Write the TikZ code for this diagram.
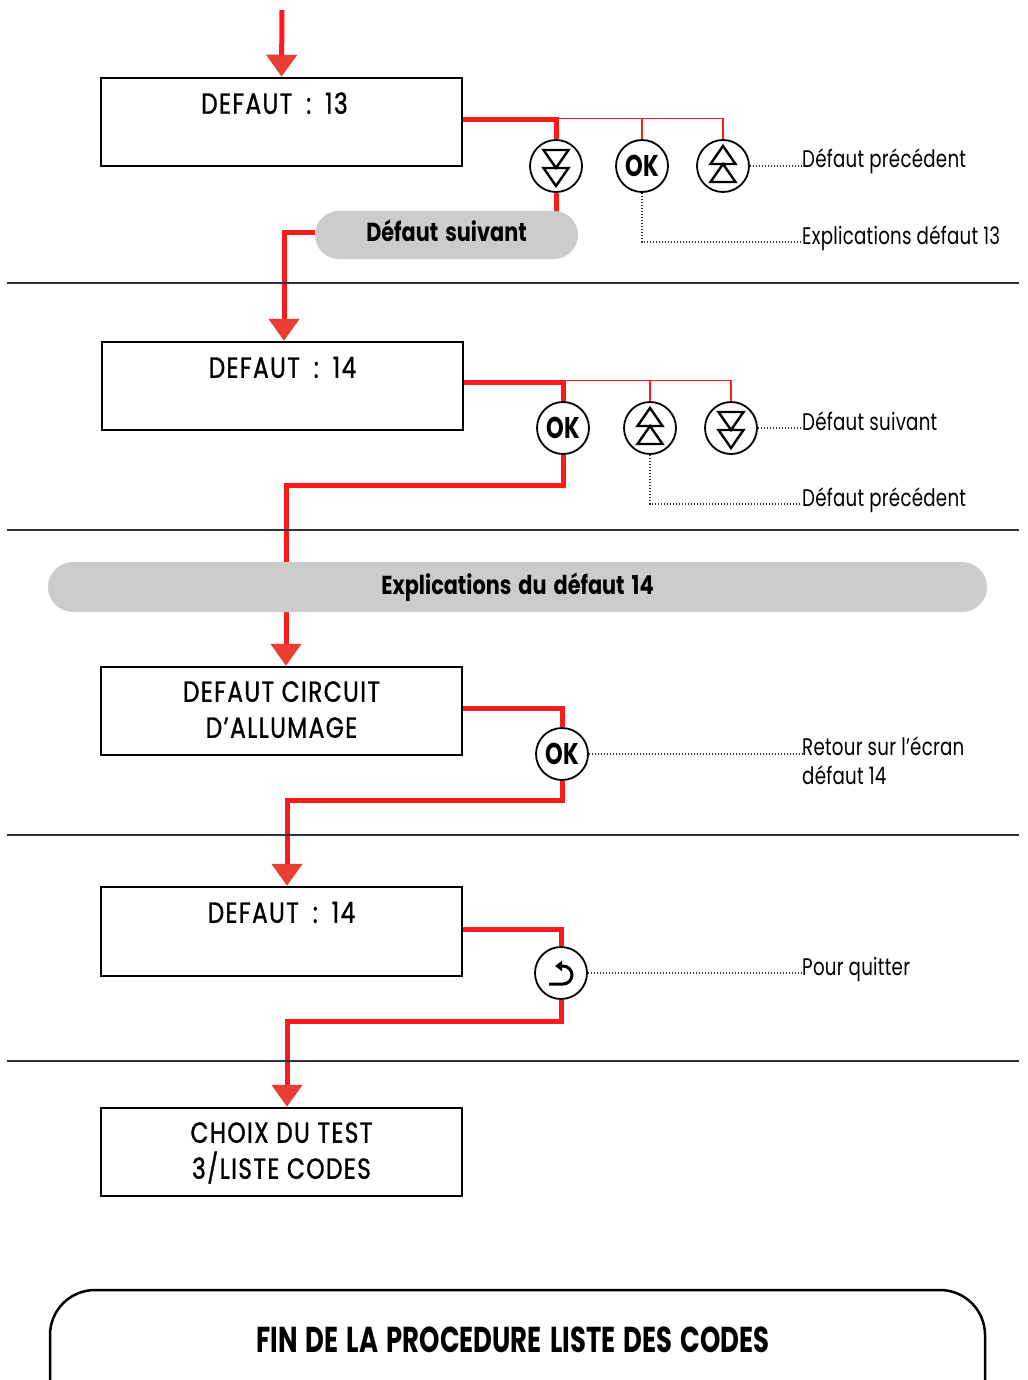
\documentclass[tikz,border=0pt]{standalone}
\usepackage{fontspec}
\setmainfont{Poppins}
\newfontfamily\ftbox[FakeStretch=0.8,LetterSpace=5,FakeBold=1.1]{Poppins}
\newfontfamily\ftlab[FakeStretch=0.76,LetterSpace=1]{Poppins}
\newfontfamily\ftbold[FakeStretch=0.8,WordSpace=1.6]{Poppins}
\newfontfamily\ftok[FakeStretch=0.75]{Poppins}
\newfontfamily\ftfin[FakeStretch=0.72,WordSpace=1.5]{Poppins}
\usetikzlibrary{arrows.meta,backgrounds}
\definecolor{lnred}{RGB}{255,26,26}
\definecolor{arred}{RGB}{234,62,52}
\definecolor{pillgray}{RGB}{204,204,204}
\definecolor{sepgray}{RGB}{50,50,50}
\newcommand{\colsep}{\hspace{14pt}:\hspace{14pt}}
\begin{document}
\begin{tikzpicture}[x=1pt,y=-1pt,
  scrbox/.style={draw, line width=2.5pt, minimum width=361pt, minimum height=88pt, inner sep=0pt},
  boxtxt/.style={font=\ftbox\fontsize{29}{34}\selectfont, inner sep=0pt, anchor=base},
  btn/.style={circle, draw, line width=1.8pt, fill=white, minimum size=52pt, inner sep=0pt},
  okbtn/.style={btn, font=\ftok\bfseries\fontsize{30}{34}\selectfont},
  dnbtn/.style={btn, path picture={
     \draw[line width=2.4pt, line join=miter]
       ([shift={(-12.5,-16)}]path picture bounding box.center) -- ++(25,0) -- ++(-12.5,18) -- cycle
       ([shift={(-12.5,2)}]path picture bounding box.center) -- ++(25,0) -- ++(-12.5,18) -- cycle;}},
  upbtn/.style={btn, path picture={
     \draw[line width=2.4pt, line join=miter]
       ([shift={(-12.5,16)}]path picture bounding box.center) -- ++(25,0) -- ++(-12.5,-18) -- cycle
       ([shift={(-12.5,-2)}]path picture bounding box.center) -- ++(25,0) -- ++(-12.5,-18) -- cycle;}},
  bkbtn/.style={btn, path picture={
     \draw[line width=3pt, -{Triangle[width=10pt,length=7pt]}]
       ([shift={(-12,11)}]path picture bounding box.center) -- ++(14,0)
       arc[start angle=90, end angle=-90, radius=9] -- ++(-8,0);}},
  lab/.style={font=\ftlab\fontsize{24}{28}\selectfont, inner sep=0pt, anchor=base west},
  pill/.style={fill=pillgray, rounded corners=24pt, inner sep=0pt,
     font=\ftbold\bfseries\fontsize{26}{30}\selectfont, text height=19pt, text depth=5pt},
  sepline/.style={draw=sepgray, line width=1.3pt},
  redln/.style={draw=lnred, line width=5pt, line join=miter},
  redarr/.style={redln, -{Triangle[width=30pt,length=22pt,color=arred]}},
  thinred/.style={draw=lnred, line width=1.5pt},
  dotln/.style={draw=black!80, line width=1.2pt, dash pattern=on 1.2pt off 1.8pt}
]
\useasboundingbox (0,0) rectangle (1027,1380);

% separators
\draw[sepline] (7,283) -- (1019,283);
\draw[sepline] (7,530) -- (1019,530);
\draw[sepline] (7,835) -- (1019,835);
\draw[sepline] (7,1061) -- (1019,1061);

% ---- section 1
\coordinate (start) at (282,10);
\node[scrbox] (b1) at (281.5,122) {};
\node[boxtxt] (t1) at ([xshift=-7pt,yshift=-37pt]b1.north) {DEFAUT\colsep 13};
\node[dnbtn] (dn1) at (556,166) {};
\node[okbtn] (ok1) at (642,166) {OK};
\node[upbtn] (up1) at (723,166) {};
\node[pill, minimum width=263pt, minimum height=48pt] (p1) at (446.5,235) {Défaut suivant};
\node[lab] (lab1) at (802,168) {Défaut précédent};
\node[lab] (lab2) at (802,244) {Explications défaut 13};

% ---- section 2
\node[scrbox] (b2) at (282.5,386) {};
\node[boxtxt] (t2) at ([yshift=-37pt]b2.north) {DEFAUT\colsep 14};
\node[okbtn] (ok2) at (563,428) {OK};
\node[upbtn] (up2) at (650,428) {};
\node[dnbtn] (dn2) at (731,428) {};
\node[lab] (lab3) at (802,430) {Défaut suivant};
\node[lab] (lab4) at (802,506) {Défaut précédent};

% ---- section 3
\node[scrbox] (b3) at (281.5,711) {};
\node[boxtxt] (t3a) at ([yshift=-36pt]b3.north) {DEFAUT CIRCUIT};
\node[boxtxt] (t3b) at ([yshift=-72pt]b3.north) {D’ALLUMAGE};
\node[okbtn] (ok3) at (562,754) {OK};
\node[lab] (lab5a) at (802,755) {Retour sur l’écran};
\node[lab] (lab5b) at (802,784) {défaut 14};

% ---- section 4
\node[scrbox, minimum height=89pt] (b4) at (281.5,931.5) {};
\node[boxtxt] (t4) at ([yshift=-37pt]b4.north) {DEFAUT\colsep 14};
\node[bkbtn] (bk) at (561,973) {};
\node[lab] (lab6) at (802,975) {Pour quitter};

% ---- section 5
\node[scrbox] (b5) at (281.5,1152) {};
\node[boxtxt] (t5a) at ([yshift=-36pt]b5.north) {CHOIX DU TEST};
\node[boxtxt] (t5b) at ([yshift=-72pt]b5.north) {3/LISTE CODES};

% big pill
\node[pill, minimum width=939pt, minimum height=50pt, rounded corners=25pt] (p2) at (517.5,587) {Explications du défaut 14};

% final box
\node[draw, line width=2.5pt, rounded corners=45pt, minimum width=935pt, minimum height=150pt] (fin) at (517.5,1365) {};
\node[font=\ftfin\bfseries\fontsize{36}{40}\selectfont, inner sep=0pt, anchor=base] (fint) at (513,1352) {FIN DE LA PROCEDURE LISTE DES CODES};

% ---- connectors
\begin{scope}[on background layer]
  \draw[redarr] (start) -- (b1.north);
  \draw[redln] ([yshift=2pt]b1.east) -| (dn1.north);
  \draw[thinred] ([yshift=3.5pt]dn1.north |- b1.east) -| (up1.north);
  \draw[thinred] ([yshift=3.5pt]ok1.north |- b1.east) -- (ok1.north);
  \draw[redln] (dn1.south) -- (dn1.south |- p1.center);
  \draw[redarr] ([yshift=2pt]p1.center -| p1.west) -| ([xshift=1.5pt]b2.north);

  \draw[redln] ([yshift=4pt]b2.east) -| (ok2.north);
  \draw[thinred] ([yshift=5.5pt]ok2.north |- b2.east) -| (dn2.north);
  \draw[thinred] ([yshift=5.5pt]up2.north |- b2.east) -- (up2.north);
  \draw[redarr] (ok2.south) -- ++(0,31) -| ([xshift=4.5pt]b3.north);

  \draw[redln] ([yshift=3pt]b3.east) -| (ok3.north);
  \draw[redarr] (ok3.south) -- ++(0,20) -| ([xshift=5.5pt]b4.north);

  \draw[redln] ([yshift=2pt]b4.east) -| (bk.north);
  \draw[redarr] (bk.south) -- ++(0,22) -| ([xshift=5.5pt]b5.north);
\end{scope}

\draw[dotln] (up1.east) -- (up1.east -| lab1.west);
\draw[dotln] (ok1.south) |- ([xshift=-2pt,yshift=2pt]lab2.base west);
\draw[dotln] (dn2.east) -- (dn2.east -| lab3.west);
\draw[dotln] (up2.south) |- ([xshift=-2pt,yshift=2pt]lab4.base west);
\draw[dotln] (ok3.east) -- (ok3.east -| lab5a.west);
\draw[dotln] (bk.east) -- (bk.east -| lab6.west);
\end{tikzpicture}
\end{document}
